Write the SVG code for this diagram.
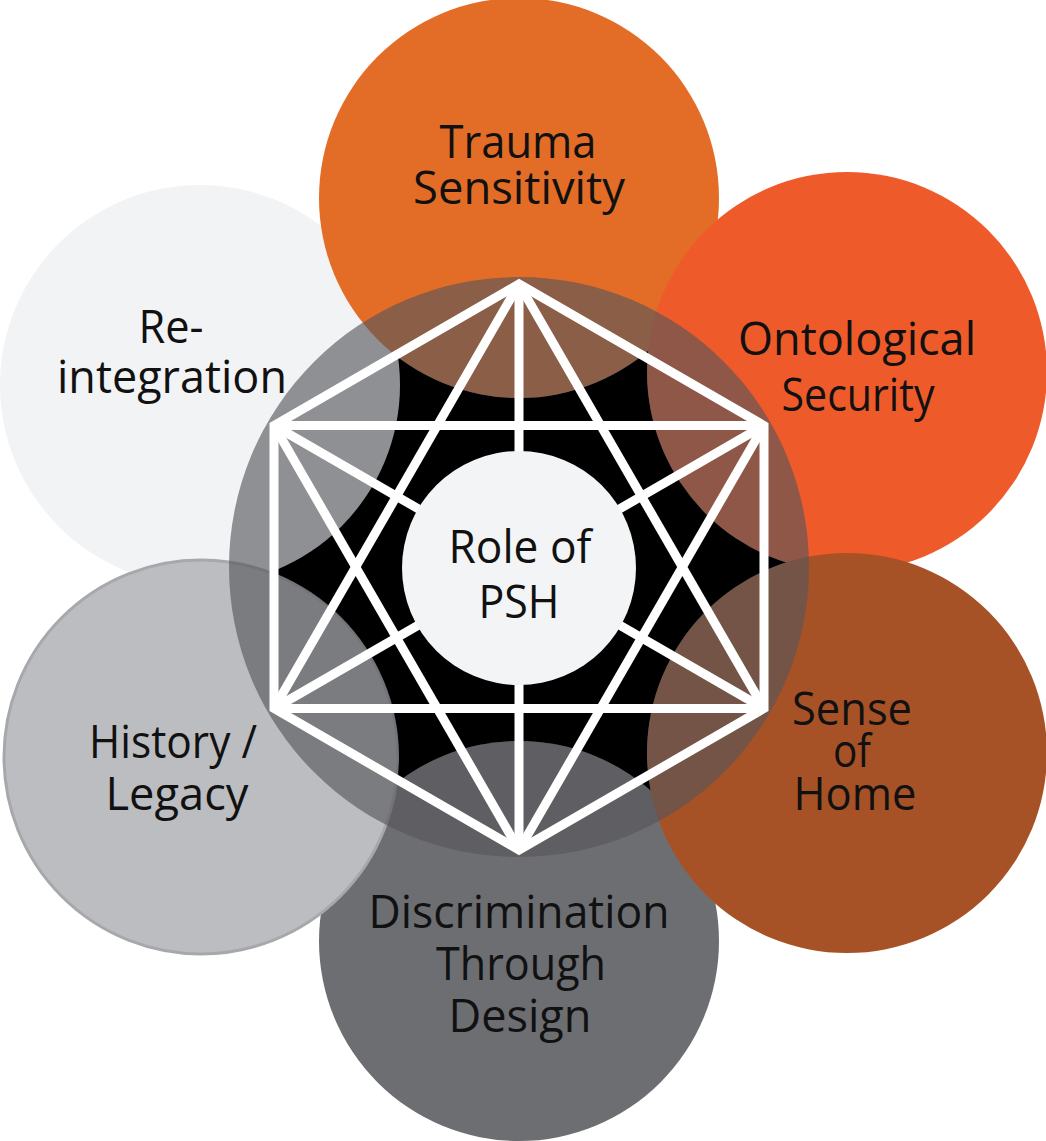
<svg xmlns="http://www.w3.org/2000/svg" width="1046" height="1141" viewBox="0 0 1046 1141">
<style>
.lbl{font-family:"Open Sans","Noto Sans","Liberation Sans",sans-serif;font-size:45px;fill:#111;text-anchor:middle}
.ln{stroke:#fff;stroke-width:9;fill:none}
</style>
<defs>
<mask id="gap">
<rect width="1046" height="1141" fill="#fff"/>
<circle cx="200" cy="385" r="200" fill="#000"/>
<circle cx="519" cy="198" r="200" fill="#000"/>
<circle cx="847" cy="372" r="200" fill="#000"/>
<circle cx="519" cy="941" r="200" fill="#000"/>
<circle cx="847" cy="753" r="200" fill="#000"/>
<circle cx="201" cy="757" r="198" fill="#000"/>
</mask>
</defs>
<rect width="1046" height="1141" fill="#fff"/>
<g id="reintegration"><circle cx="200" cy="385" r="200" fill="#f2f3f5"/></g>
<g id="trauma"><circle cx="519" cy="198" r="200" fill="#e36d26"/></g>
<g id="ontological"><circle cx="847" cy="372" r="200" fill="#ef5a2a"/></g>
<g id="discrimination"><circle cx="519" cy="941" r="200" fill="#6d6e72"/></g>
<g id="home"><circle cx="847" cy="753" r="200" fill="#a75226"/></g>
<g id="history"><circle cx="201" cy="757" r="197" fill="#bcbdc0" stroke="#a7a8ab" stroke-width="3"/></g>
<g id="overlay"><circle cx="519" cy="567" r="290" fill="#55565b" fill-opacity="0.63"/>
<circle cx="519" cy="567" r="270" fill="#000" mask="url(#gap)"/></g>
<g id="connectors">
<polygon class="ln" points="519,284 764,425.5 764,708.5 519,850 274,708.5 274,425.5" stroke-linejoin="miter"/>
<line class="ln" x1="274" y1="425.5" x2="764" y2="425.5"/>
<line class="ln" x1="274" y1="708.5" x2="764" y2="708.5"/>
<line class="ln" x1="519" y1="284" x2="274" y2="708.5"/>
<line class="ln" x1="519" y1="284" x2="764" y2="708.5"/>
<line class="ln" x1="519" y1="850" x2="274" y2="425.5"/>
<line class="ln" x1="519" y1="850" x2="764" y2="425.5"/>
<line class="ln" x1="519" y1="284" x2="519" y2="850"/>
<line class="ln" x1="274" y1="425.5" x2="764" y2="708.5"/>
<line class="ln" x1="764" y1="425.5" x2="274" y2="708.5"/>
</g>
<g id="center"><circle cx="519" cy="568" r="117" fill="#f3f4f6"/>
<text class="lbl" x="520" y="563" textLength="143" lengthAdjust="spacingAndGlyphs">Role of</text>
<text class="lbl" x="519" y="618" textLength="81" lengthAdjust="spacingAndGlyphs">PSH</text></g>
<g id="t-trauma">
<text class="lbl" x="518" y="158" textLength="157" lengthAdjust="spacingAndGlyphs">Trauma</text>
<text class="lbl" x="519" y="204" textLength="212" lengthAdjust="spacingAndGlyphs">Sensitivity</text></g>
<g id="t-onto">
<text class="lbl" x="857" y="355" textLength="238" lengthAdjust="spacingAndGlyphs">Ontological</text>
<text class="lbl" x="858" y="411" textLength="153" lengthAdjust="spacingAndGlyphs">Security</text></g>
<g id="t-reint">
<text class="lbl" x="171" y="343" textLength="65" lengthAdjust="spacingAndGlyphs">Re-</text>
<text class="lbl" x="172" y="393" textLength="230" lengthAdjust="spacingAndGlyphs">integration</text></g>
<g id="t-home">
<text class="lbl" x="852" y="725" textLength="120" lengthAdjust="spacingAndGlyphs">Sense</text>
<text class="lbl" x="852" y="767" textLength="38" lengthAdjust="spacingAndGlyphs">of</text>
<text class="lbl" x="855" y="810" textLength="123" lengthAdjust="spacingAndGlyphs">Home</text></g>
<g id="t-history">
<text class="lbl" x="173" y="758" textLength="168" lengthAdjust="spacingAndGlyphs">History /</text>
<text class="lbl" x="177" y="810" textLength="143" lengthAdjust="spacingAndGlyphs">Legacy</text></g>
<g id="t-disc">
<text class="lbl" x="519" y="928" textLength="301" lengthAdjust="spacingAndGlyphs">Discrimination</text>
<text class="lbl" x="521" y="980" textLength="170" lengthAdjust="spacingAndGlyphs">Through</text>
<text class="lbl" x="520" y="1032" textLength="143" lengthAdjust="spacingAndGlyphs">Design</text></g>
</svg>
